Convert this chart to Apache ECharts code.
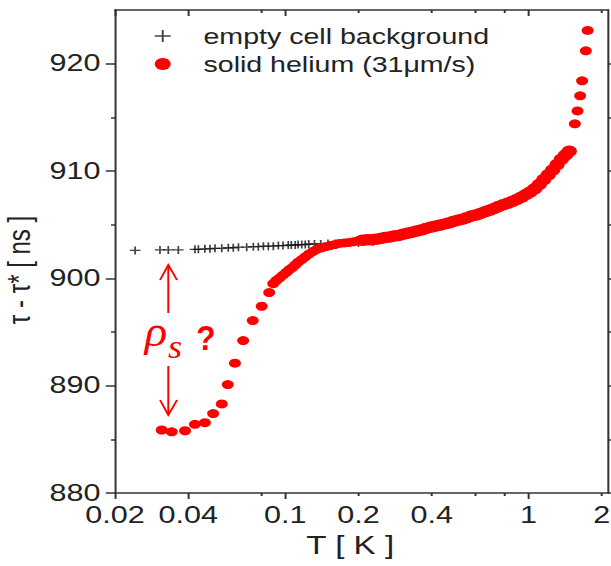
<!DOCTYPE html>
<html><head><meta charset="utf-8">
<script src="https://cdn.jsdelivr.net/npm/echarts@6/dist/echarts.min.js"></script>
<style>
html,body{margin:0;padding:0;background:#fff;overflow:hidden}
#wrap{width:611px;height:566px;overflow:hidden;position:relative}
#c{width:460px;height:566px;transform:scaleX(1.32826);transform-origin:0 0}
</style></head>
<body><div id="wrap"><div id="c"></div></div>
<script>
// ---- data ----
var bgT = [0.0242,0.0306,0.0331,0.0364,0.0426,0.044,0.0468,0.0491,0.0515,0.0549,0.0584,0.0612,0.0643,0.0695,0.074,0.0776,0.0814,0.0853,0.0894,0.0938,0.098,0.103,0.106,0.110,0.113,0.117,0.121,0.125,0.132,0.14,0.15,0.16,0.18,0.20,0.23];
var bgY = [902.6,902.65,902.65,902.65,902.7,902.7,902.75,902.75,902.8,902.8,902.85,902.85,902.9,902.9,902.95,902.95,903.0,903.0,903.0,903.05,903.05,903.1,903.1,903.1,903.15,903.15,903.15,903.2,903.2,903.2,903.25,903.25,903.3,903.3,903.4];

var heT = [0.0311,0.0342,0.0388,0.0426,0.0468,0.0506,0.0549,0.0581,0.0622,0.0672,0.0736,0.0801,0.086,0.0894,
  0.092,0.095,0.098,0.101,0.104,0.107,0.110,0.113,0.117,0.121,0.125,0.130,0.135,0.141,0.147,0.153,0.160,0.167,0.175,0.183,0.191,0.200,
  0.208,0.217,0.226,0.236,0.246,0.257,0.268,0.280,0.292,0.305,0.318,0.332,0.347,0.362,0.378,0.395,0.412,0.430,0.449,0.469,0.490,0.511,
  0.534,0.557,0.582,0.607,0.634,0.662,0.691,0.721,0.753,0.786,0.820,0.856,0.894,0.933,0.974,1.016,1.061,1.107,1.155,1.205,1.257,1.310,
  1.365,1.420,1.470,1.55,1.59,1.63,1.66,1.72,1.75];
var heY = [885.87,885.7,885.8,886.4,886.55,887.4,888.3,890.1,892.1,894.2,896.06,897.4,898.67,899.5,
  899.8,900.05,900.3,900.55,900.8,901.0,901.25,901.5,901.75,902.0,902.25,902.5,902.7,902.85,902.95,903.05,903.15,903.25,903.3,903.35,903.4,903.5,
  903.55,903.6,903.6,903.65,903.7,903.8,903.85,903.95,904.0,904.1,904.2,904.3,904.4,904.5,904.65,904.75,904.85,904.95,905.05,905.15,905.3,905.4,
  905.5,905.65,905.8,905.9,906.05,906.2,906.35,906.5,906.7,906.85,907.0,907.15,907.35,907.55,907.8,908.05,908.35,908.75,909.2,909.65,910.1,910.6,
  911.1,911.5,911.85,914.4,915.6,917.0,918.4,921.2,923.1];

var xLabelValues = [0.02,0.04,0.1,0.2,0.4,1,2];
var xMajorTicks = [0.02,0.04,0.1,1];
var xMinorTicks = [0.08,0.2,0.4,0.6,0.8,2];
var yLabelValues = [880,890,900,910,920];
var yMinorTicks = [885,895,905,915];
var yAllTicks = [880,885,890,895,900,905,910,915,920];

var seriesNames = ['empty cell background','solid helium (31\u03bcm/s)'];

// ---- chart ----
var FONT = '"Liberation Sans", Arial, sans-serif';
var AX = '#333';
var plusPath = 'path://M4.2,0H5.8V4.2H10V5.8H5.8V10H4.2V5.8H0V4.2H4.2Z';
var plusPathThin = 'path://M4.4,0H5.6V4.4H10V5.6H5.6V10H4.4V5.6H0V4.4H4.4Z';
var gridRect = {left:86.6, right:2.3, top:10, bottom:73, outerBoundsMode:'none', containLabel:false};

function pairs(a,b){return a.map(function(v,i){return [v,b[i]];});}

var chart = echarts.init(document.getElementById('c'), null, {renderer:'svg'});
var lineStyle = {color:AX, width:1.5};
var xBase = {type:'log', logBase:10, min:0.02, max:2.12, splitLine:{show:false}, axisLine:{show:true, onZero:false, lineStyle:lineStyle}};
var yBase = {type:'value', min:880, max:925, splitLine:{show:false}, axisLine:{show:true, onZero:false, lineStyle:lineStyle}};

chart.setOption({
  animation:false,
  backgroundColor:'#fff',
  grid:[Object.assign({},gridRect), Object.assign({},gridRect)],
  legend:{
    orient:'vertical', left:116.5, top:25, padding:0, itemGap:6,
    itemWidth:51.4, itemHeight:12,
    textStyle:{fontSize:21.5, color:'#222', fontFamily:FONT},
    data:[{name:seriesNames[0], icon:plusPathThin},{name:seriesNames[1], icon:'circle'}]
  },
  xAxis:[
    Object.assign({}, xBase, {gridIndex:0, position:'bottom',
      axisTick:{show:true, customValues:xMajorTicks, length:6, lineStyle:lineStyle},
      axisLabel:{show:true, customValues:xLabelValues, margin:11, fontSize:23, color:'#222', fontFamily:FONT,
        formatter:function(v){return String(v);}},
      name:'T [ K ]', nameLocation:'middle', nameGap:40,
      nameTextStyle:{fontSize:25, color:'#222', fontFamily:FONT, padding:[0,17,0,0]}}),
    Object.assign({}, xBase, {gridIndex:0, position:'top',
      axisTick:{show:true, inside:true, customValues:xMajorTicks, length:6, lineStyle:lineStyle},
      axisLabel:{show:false}}),
    Object.assign({}, xBase, {gridIndex:1, position:'bottom', axisLine:{show:false},
      axisTick:{show:true, customValues:xMinorTicks, length:3, lineStyle:lineStyle},
      axisLabel:{show:false}}),
    Object.assign({}, xBase, {gridIndex:1, position:'top', axisLine:{show:false},
      axisTick:{show:true, inside:true, customValues:xMinorTicks, length:3, lineStyle:lineStyle},
      axisLabel:{show:false}})
  ],
  yAxis:[
    Object.assign({}, yBase, {gridIndex:0, position:'left',
      axisTick:{show:true, customValues:yLabelValues, length:7, lineStyle:lineStyle},
      axisLabel:{show:true, customValues:yLabelValues, margin:11, fontSize:23, color:'#222', fontFamily:FONT},
      name:'\u03c4 - \u03c4* [ ns ]', nameLocation:'middle', nameGap:50,
      nameTextStyle:{fontSize:24, color:'#222', fontFamily:FONT, padding:[0,37,0,0]}}),
    Object.assign({}, yBase, {gridIndex:0, position:'right',
      axisTick:{show:true, customValues:yAllTicks, length:6, lineStyle:lineStyle},
      axisLabel:{show:false}}),
    Object.assign({}, yBase, {gridIndex:1, position:'left', axisLine:{show:false},
      axisTick:{show:true, customValues:yMinorTicks, length:3, lineStyle:lineStyle},
      axisLabel:{show:false}}),
    Object.assign({}, yBase, {gridIndex:1, position:'right', axisLine:{show:false},
      axisTick:{show:false}, axisLabel:{show:false}})
  ],
  series:[
    {name:seriesNames[0], type:'scatter', xAxisIndex:0, yAxisIndex:0,
     symbol:plusPath, symbolSize:8, itemStyle:{color:'#111'}, data:pairs(bgT,bgY), z:2},
    {name:seriesNames[1], type:'scatter', xAxisIndex:0, yAxisIndex:0,
     symbol:'circle',
     symbolSize:function(v){ return (v[0] > 0.2 && v[0] < 1.5) ? 11.5 : 9; },
     itemStyle:{color:'#ff0000', opacity:1}, data:pairs(heT,heY), z:3}
  ],
  graphic:[
    {type:'line', shape:{x1:126.7,y1:265,x2:126.7,y2:313}, style:{stroke:'#ff0000', lineWidth:1.5}},
    {type:'polyline', shape:{points:[[120.5,280],[126.7,265],[133.3,280]]}, style:{stroke:'#ff0000', lineWidth:1.5, fill:null}},
    {type:'line', shape:{x1:126.7,y1:366,x2:126.7,y2:414}, style:{stroke:'#ff0000', lineWidth:1.5}},
    {type:'polyline', shape:{points:[[120.5,400],[126.7,415],[133.3,400]]}, style:{stroke:'#ff0000', lineWidth:1.5, fill:null}},
    {type:'text', x:109, y:331, scaleX:0.8, style:{text:'\u03c1', font:'italic 44px "Liberation Serif", serif', fill:'#ff0000', verticalAlign:'middle', align:'left'}},
    {type:'text', x:126.5, y:347, scaleX:0.8, style:{text:'s', font:'italic 34px "Liberation Serif", serif', fill:'#ff0000', verticalAlign:'middle', align:'left'}},
    {type:'text', x:147.8, y:338, scaleX:0.68, style:{text:'?', font:'bold 35px "Liberation Sans", Arial, sans-serif', fill:'#ff0000', verticalAlign:'middle', align:'left'}}
  ]
});
</script>
</body></html>
